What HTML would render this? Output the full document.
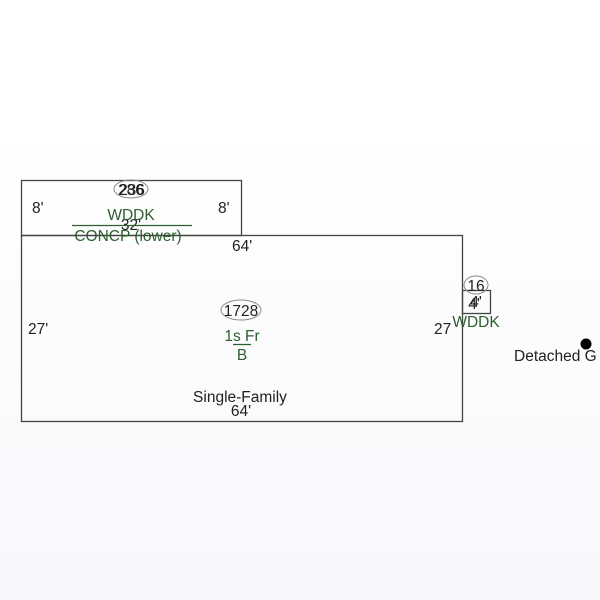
<!DOCTYPE html>
<html><head><style>
html,body{margin:0;padding:0;width:600px;height:600px;overflow:hidden;}
body{background:linear-gradient(to bottom,#fff 0,#fff 130px,#f7f8fc 600px);}
svg text{font-family:"Liberation Sans",sans-serif;font-size:15.5px;}
</style></head><body>
<svg width="600" height="600" xmlns="http://www.w3.org/2000/svg">
<g fill="none" stroke="#444" stroke-width="1.3">
<rect x="21.5" y="180.5" width="220" height="55"/>
<rect x="21.5" y="235.5" width="441" height="186"/>
<rect x="462.5" y="290.5" width="28" height="23"/>
</g>
<circle cx="586" cy="344" r="5.5" fill="#000"/>
<g fill="#222">
<ellipse cx="131" cy="189" rx="17" ry="9" fill="none" stroke="#888"/>
<text x="131" y="195" text-anchor="middle">286</text>
<text x="132" y="195" text-anchor="middle">236</text>
<text x="32" y="213">8'</text>
<text x="218" y="213">8'</text>
<text x="131" y="230" text-anchor="middle">32'</text>
<text x="232" y="251">64'</text>
<text x="28" y="334">27'</text>
<text x="434" y="334">27</text>
<ellipse cx="241" cy="310" rx="20" ry="10" fill="none" stroke="#888"/>
<text x="241" y="316" text-anchor="middle">1728</text>
<text x="240" y="402" text-anchor="middle">Single-Family</text>
<text x="241" y="416" text-anchor="middle">64'</text>
<ellipse cx="476" cy="285" rx="12" ry="9" fill="none" stroke="#888"/>
<text x="476" y="291" text-anchor="middle">16</text>
<text x="474" y="309" text-anchor="middle">4'</text>
<text x="476" y="307" text-anchor="middle">4'</text>
<text x="514" y="361">Detached G</text>
</g>
<g fill="#2d5e2d">
<text x="131" y="220" text-anchor="middle">WDDK</text>
<line x1="72" y1="225.5" x2="192" y2="225.5" stroke="#2d5e2d" stroke-width="1.3"/>
<text x="128" y="241" text-anchor="middle">CONCP (lower)</text>
<text x="242" y="341" text-anchor="middle">1s Fr</text>
<line x1="233" y1="344.5" x2="251" y2="344.5" stroke="#2d5e2d" stroke-width="1.3"/>
<text x="242" y="360" text-anchor="middle">B</text>
<text x="476" y="327" text-anchor="middle">WDDK</text>
</g>
</svg>
</body></html>
